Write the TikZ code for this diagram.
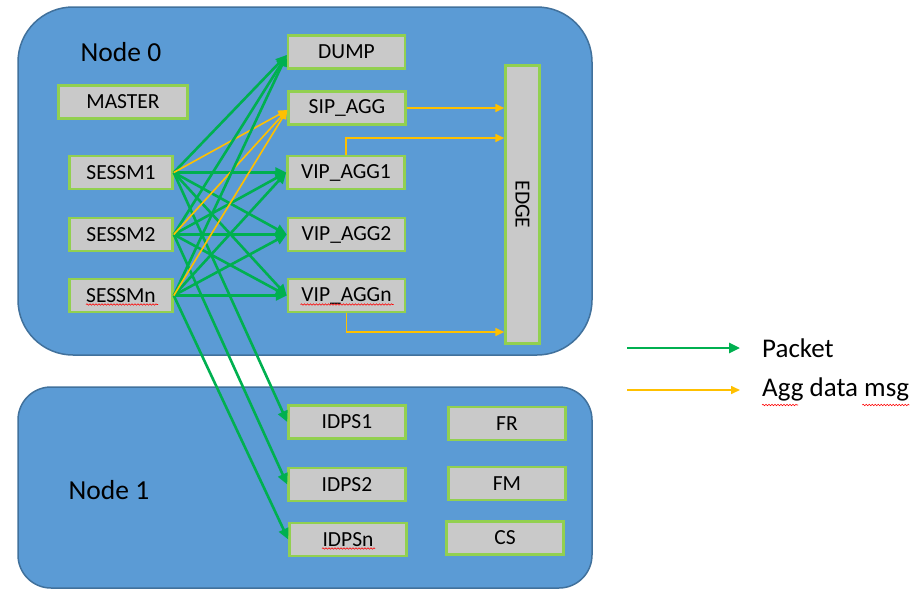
\documentclass[tikz,border=0pt]{standalone}
\usepackage{fontspec}
\setmainfont{Carlito}
\usetikzlibrary{arrows.meta,decorations.pathmorphing}
\definecolor{bgblue}{HTML}{5B9BD5}
\definecolor{bgborder}{HTML}{41719C}
\definecolor{boxfill}{HTML}{C9C9C9}
\definecolor{boxborder}{HTML}{92D050}
\definecolor{pktgreen}{HTML}{00B050}
\definecolor{aggyellow}{HTML}{FFC000}
\tikzset{
  hostbox/.style={fill=bgblue, draw=bgborder, line width=1.5pt},
  procbox/.style={draw=boxborder, fill=boxfill, line width=2.5pt, minimum width=117pt,
    minimum height=33pt, inner sep=0pt, font=\fontsize{21.5}{24}\selectfont},
  hosttitle/.style={font=\fontsize{27.5}{30}\selectfont, inner sep=0pt},
  legendtext/.style={font=\fontsize{27}{30}\selectfont, inner sep=0pt, anchor=west},
  pkt/.style={draw=pktgreen, line width=2.6pt, -{Triangle[length=11pt,width=10pt]}},
  aggmsg/.style={draw=aggyellow, line width=1.6pt, -{Triangle[length=9pt,width=8pt]}},
  squig/.style={draw=red, line width=0.6pt, decorate,
    decoration={snake, amplitude=0.7pt, segment length=3pt}}
}
\begin{document}
\begin{tikzpicture}[x=1pt,y=-1pt]
\useasboundingbox (0,0) rectangle (922,603);
% host containers
\draw[hostbox, rounded corners=55pt] (18,7) rectangle (592,355);
\draw[hostbox, rounded corners=33pt] (18,387) rectangle (592,588);
\node[hosttitle] (n0) at (121,52) {Node 0};
\node[hosttitle] (n1) at (109,490) {Node 1};
% Node 0 processes
\node[procbox] (DUMP) at (346.5,52) {DUMP};
\node[procbox, minimum width=129pt] (MASTER) at (123,102) {MASTER};
\node[procbox] (SIP) at (347,108) {SIP\_AGG};
\node[procbox, minimum width=103pt] (S1) at (121,172.5) {SESSM1};
\node[procbox] (V1) at (346,172.5) {VIP\_AGG1};
\node[procbox, minimum width=103pt] (S2) at (121,234.5) {SESSM2};
\node[procbox] (V2) at (346.5,234.5) {VIP\_AGG2};
\node[procbox, minimum width=103pt] (Sn) at (121,295.5) {SESSMn};
\node[procbox] (Vn) at (346.5,295.5) {VIP\_AGGn};
\node[procbox, minimum width=34pt, minimum height=278pt] (EDGE) at (522.5,204.5) {\rotatebox{-90}{EDGE}};
% Node 1 processes
\node[procbox] (I1) at (347,422) {IDPS1};
\node[procbox] (FR) at (507,423.5) {FR};
\node[procbox] (I2) at (347,484.5) {IDPS2};
\node[procbox] (FM) at (507,483.5) {FM};
\node[procbox] (In) at (348,539.5) {IDPSn};
\node[procbox] (CS) at (505,538) {CS};
% packet arrows
\foreach \s/\i in {S1/I1, S2/I2, Sn/In}{
  \draw[pkt] (\s.east) -- ([yshift=-3pt]DUMP.west);
  \draw[pkt] (\s.east) -- (V1.west);
  \draw[pkt] (\s.east) -- (V2.west);
  \draw[pkt] (\s.east) -- (Vn.west);
  \draw[pkt] (\s.east) -- (\i.west);
  \draw[aggmsg] (\s.east) -- ([yshift=-2pt]SIP.west);
}
% aggregation messages to EDGE
\draw[aggmsg] (SIP.east) -- (SIP.east -| EDGE.west);
\draw[aggmsg] (V1.north) |- ([yshift=66.5pt]EDGE.west);
\draw[aggmsg] (Vn.south) |- ([yshift=-127.5pt]EDGE.west);
% legend
\coordinate (lg1a) at (627,348);
\coordinate (lg1b) at (740,348);
\coordinate (lg2a) at (627,390);
\coordinate (lg2b) at (740,390);
\draw[pkt] (lg1a) -- (lg1b);
\draw[aggmsg] (lg2a) -- (lg2b);
\node[legendtext] (lpkt) at (762,348) {Packet};
\node[legendtext] (lagg) at (762,389) {Agg data msg};
% spell-check squiggles
\draw[squig] ([xshift=-35pt,yshift=-9pt]Sn.center) -- ([xshift=37pt,yshift=-9pt]Sn.center);
\draw[squig] ([xshift=-46pt,yshift=-9pt]Vn.center) -- ([xshift=47pt,yshift=-9pt]Vn.center);
\draw[squig] ([xshift=-26pt,yshift=-9pt]In.center) -- ([xshift=27pt,yshift=-9pt]In.center);
\draw[squig] ([xshift=0pt,yshift=-16pt]lagg.west) -- ([xshift=36pt,yshift=-16pt]lagg.west);
\draw[squig] ([xshift=-47pt,yshift=-16pt]lagg.east) -- ([xshift=0pt,yshift=-16pt]lagg.east);
\end{tikzpicture}
\end{document}
